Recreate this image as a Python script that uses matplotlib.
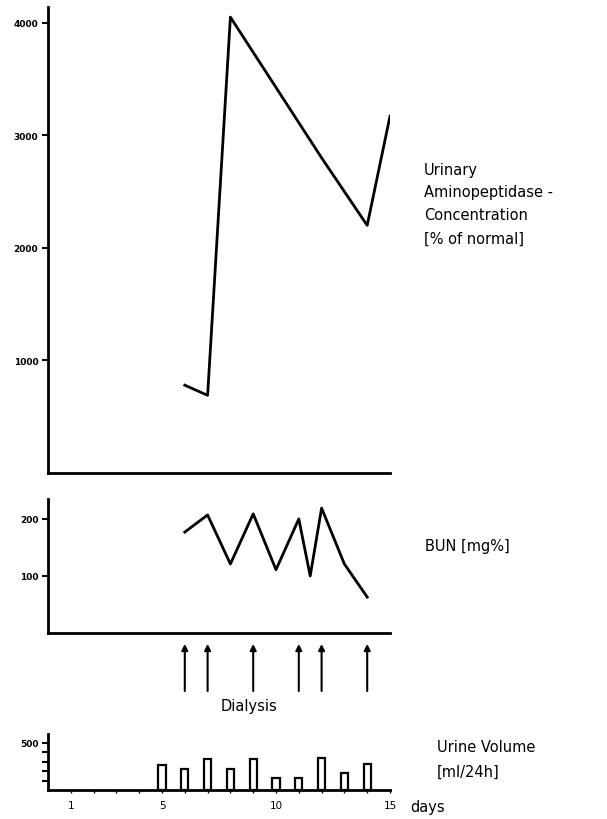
import numpy as np
import matplotlib.pyplot as plt

# urinary aminopeptidase concentration, % of normal
ap_days = [6, 7, 8, 12, 13, 14, 15]
ap_conc = [780, 690, 4050, 2800, 2500, 2200, 3170]

# blood urea nitrogen, mg%
bun_days = [6, 7, 8, 9, 10, 11, 11.5, 12, 13, 14]
bun_vals = [177, 207, 121, 209, 111, 200, 100, 219, 121, 63]

# dialysis sessions
dialysis_days = [6, 7, 9, 11, 12, 14]

# urine volume, ml/24h
uv_days = [5, 6, 7, 8, 9, 10, 11, 12, 13, 14]
uv_vals = [268, 221, 325, 221, 325, 125, 125, 332, 175, 279]

W, H = 607, 820
fig = plt.figure(figsize=(W / 100, H / 100), dpi=100)


def px_axes(x0, y0, x1, y1):
    # rectangle given in pixel coords from top-left
    return fig.add_axes([x0 / W, 1 - y1 / H, (x1 - x0) / W, (y1 - y0) / H])


def style(ax):
    for s in ['top', 'right']:
        ax.spines[s].set_visible(False)
    for s in ['left', 'bottom']:
        ax.spines[s].set_linewidth(2)
    ax.set_xlim(0, 15)
    ax.tick_params(axis='y', direction='out', length=4, width=1.5, pad=3,
                   labelsize=6.5)
    for lab in ax.get_yticklabels():
        lab.set_fontweight('bold')


# top panel
ax1 = px_axes(48, 8, 390, 474)
ax1.plot(ap_days, ap_conc, color='black', lw=2)
ax1.set_ylim(0, 4140)
ax1.set_yticks([1000, 2000, 3000, 4000])
ax1.set_xticks([])
style(ax1)

# BUN panel
ax2 = px_axes(48, 500, 390, 634)
ax2.plot(bun_days, bun_vals, color='black', lw=2)
ax2.set_ylim(0, 235)
ax2.set_yticks([100, 200])
ax2.set_xticks([])
style(ax2)

# dialysis arrows
ax3 = px_axes(48, 640, 390, 720)
ax3.set_xlim(0, 15)
ax3.set_ylim(720, 640)
ax3.axis('off')
for d in dialysis_days:
    ax3.annotate('', xy=(d, 645), xytext=(d, 692),
                 arrowprops=dict(arrowstyle='-|>,head_width=0.18,head_length=0.35',
                                 color='black', lw=1.5, shrinkA=0, shrinkB=0))
ax3.text(np.mean([dialysis_days[0], dialysis_days[-1]]) - 1.2, 707, 'Dialysis',
         ha='center', va='center', fontsize=10.5)

# urine volume panel
ax4 = px_axes(48, 735, 390, 791)
ax4.bar(uv_days, uv_vals, width=0.32, facecolor='white', edgecolor='black', lw=1.6)
ax4.set_ylim(0, 590)
ax4.set_yticks([100, 200, 300, 400, 500])
ax4.set_yticklabels(['', '', '', '', '500'])
ax4.set_xticks([1, 5, 10, 15])
ax4.set_xticks(np.arange(1, 16), minor=True)
ax4.tick_params(axis='x', which='both', direction='out', length=2, width=1,
                labelsize=7.5, pad=5)
style(ax4)
ax4.set_xlim(0, 15)

# right-hand labels
def ftext(x, y, s, **kw):
    fig.text(x / W, 1 - y / H, s, va='center', ha='left', fontsize=10.5, **kw)


ftext(424, 170, 'Urinary')
ftext(424, 193, 'Aminopeptidase -')
ftext(424, 216, 'Concentration')
ftext(424, 239, '[% of normal]')
ftext(425, 547, 'BUN [mg%]')
ftext(437, 748, 'Urine Volume')
ftext(437, 772, '[ml/24h]')
ftext(410, 808, 'days')

fig.savefig('out.png', dpi=100)
